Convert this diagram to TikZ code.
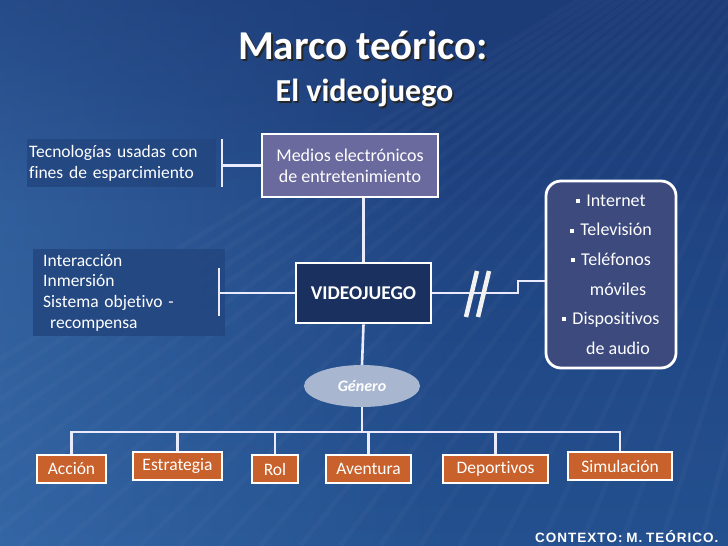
\documentclass[tikz,border=0pt]{standalone}
\usepackage{fontspec}
\setmainfont{Carlito}[Ligatures=CommonOff]
\newfontfamily\ctxfont{Liberation Sans}
\usetikzlibrary{shapes.geometric,fadings}
\definecolor{bgtop}{HTML}{1C3C78}
\definecolor{bgbot}{HTML}{24508F}
\definecolor{bglight}{HTML}{4C86C4}
\definecolor{mediosc}{HTML}{6A6A9E}
\definecolor{vjc}{HTML}{1A3160}
\definecolor{listc}{HTML}{3D4A7E}
\definecolor{genc}{HTML}{A8B6D0}
\definecolor{orangec}{HTML}{C8612B}
\definecolor{sidec}{HTML}{23467F}
\tikzset{
  conn/.style={draw=white!92!blue, line width=2.6pt},
  sidebox/.style={fill=sidec, fill opacity=0.85, text opacity=1, text=white, align=left, anchor=north west, inner sep=0pt, font=\fontsize{17.5}{20.7}\selectfont},
  mainbox/.style={draw=white, line width=2.8pt, text=white, align=center, inner sep=0pt},
  genbox/.style={fill=orangec, draw=white, line width=2.2pt, text=white, minimum height=28pt, inner sep=0pt, font=\fontsize{17.5}{19}\selectfont},
  titletext/.style={text=white},
  ray/.style={white, opacity=0.025, line width=5pt}
}
\newcommand{\bul}{\rule[3.2pt]{4pt}{4pt}\hspace{6pt}}
\newcommand{\shadowed}[2]{\makebox[0pt][l]{\hspace{#1}\raisebox{-#1}{\textcolor{black!85}{#2}}}#2}
\begin{document}
\begin{tikzpicture}[x=1pt,y=-1pt]
\useasboundingbox (0,0) rectangle (728,546);
% background
\shade[top color=bgtop, bottom color=bgbot] (0,0) rectangle (728,546);
\fill[bglight, path fading=east, opacity=0.4] (0,0) rectangle (460,546);
\fill[bgtop, path fading=south, opacity=0.45] (0,0) rectangle (728,200);
\foreach \a in {-300,-260,...,700} {
  \draw[ray] (900,-200) -- (\a,546);
}
% title
\node[titletext, font=\fontsize{41}{44}\bfseries\selectfont] (t1) at (363,46) {\shadowed{2pt}{Marco teórico:}};
\node[titletext, font=\fontsize{32}{36}\bfseries\selectfont] (t2) at (364.5,94) {\shadowed{1.6pt}{El videojuego}};
% left boxes
\node[sidebox, minimum width=188pt, minimum height=48pt, text width=185pt, inner xsep=2pt] (tec) at (27,139) {Tecnologías usadas con\\fines de esparcimiento};
\node[sidebox, minimum width=182pt, minimum height=87pt, text width=172pt, inner xsep=10pt, inner ysep=3pt] (int) at (33,249) {Interacción\\Inmersión\\Sistema objetivo -\\\hspace{7pt}recompensa};
% main boxes
\node[mainbox, fill=mediosc, minimum width=176pt, minimum height=63pt, font=\fontsize{18}{21}\selectfont] (medios) at (350,165.5) {Medios electrónicos\\ de entretenimiento};
\node[mainbox, fill=vjc, minimum width=135pt, minimum height=60pt, font=\fontsize{19.5}{22}\bfseries\selectfont] (vj) at (363.5,293) {VIDEOJUEGO};
\node[mainbox, fill=listc, rounded corners=15pt, minimum width=130pt, minimum height=187pt, font=\fontsize{18}{29.6}\selectfont] (lst) at (611,274.5) {\bul Internet\\\bul Televisión\\\bul Teléfonos\\\hspace{14pt}móviles\\\bul Dispositivos\\\hspace{14pt}de audio};
\node[ellipse, fill=genc, minimum width=116pt, minimum height=42pt, inner sep=0pt, text=white, font=\fontsize{16}{18}\bfseries\itshape\selectfont] (gen) at (362,386) {Género};
% genre boxes
\node[genbox, minimum width=69pt] (b1) at (71.5,469) {Acción};
\node[genbox, minimum width=89pt] (b2) at (177.5,466) {Estrategia};
\node[genbox, minimum width=46pt] (b3) at (275,469) {Rol};
\node[genbox, minimum width=85pt] (b4) at (368.5,469) {Aventura};
\node[genbox, minimum width=105pt] (b5) at (495.5,469) {Deportivos};
\node[genbox, minimum width=104pt] (b6) at (620,466) {Simulación};
% connectors left
\coordinate (tbA) at (222,139);
\coordinate (tbB) at (222,187);
\coordinate (tbM) at (222,165.5);
\draw[conn] (tbA) -- (tbB);
\draw[conn] (tbM) -- (medios.west);
\coordinate (ibA) at (219,268);
\coordinate (ibB) at (219,316);
\coordinate (ibM) at (219,293);
\draw[conn] (ibA) -- (ibB);
\draw[conn] (ibM) -- (vj.west);
\draw[conn] (medios.south -| vj.north) -- (vj.north);
% right connector with break
\coordinate (rk1) at (518,293);
\coordinate (rk2) at (518,281);
\coordinate (rk3) at (lst.west |- rk2);
\draw[conn] (vj.east) -- (rk1) -- (rk2) -- (rk3);
\coordinate (s1a) at (466,317);
\coordinate (s1b) at (477,271);
\coordinate (s2a) at (478,317);
\coordinate (s2b) at (489,271);
\draw[white!90!gray, line width=4.5pt] (s1a) -- (s1b);
\draw[white!90!gray, line width=4.5pt] (s2a) -- (s2b);
% genre
\draw[conn] (vj.south) -- (gen.north);
\coordinate (bus) at (362,432);
\draw[conn] (gen.south) -- (bus);
\foreach \b in {b1,b2,b3,b4,b5,b6} {
  \draw[conn] (bus) -| (\b.north);
}
% footer
\node[anchor=east, text=white, font=\ctxfont\fontsize{13.5}{15}\bfseries\selectfont] (ctx) at (722,537) {C\kern1ptO\kern1ptN\kern1ptT\kern1ptE\kern1ptX\kern1ptT\kern1ptO\kern1pt: M\kern1pt. T\kern1ptE\kern1ptÓ\kern1ptR\kern1ptI\kern1ptC\kern1ptO\kern1pt.};
\end{tikzpicture}
\end{document}
